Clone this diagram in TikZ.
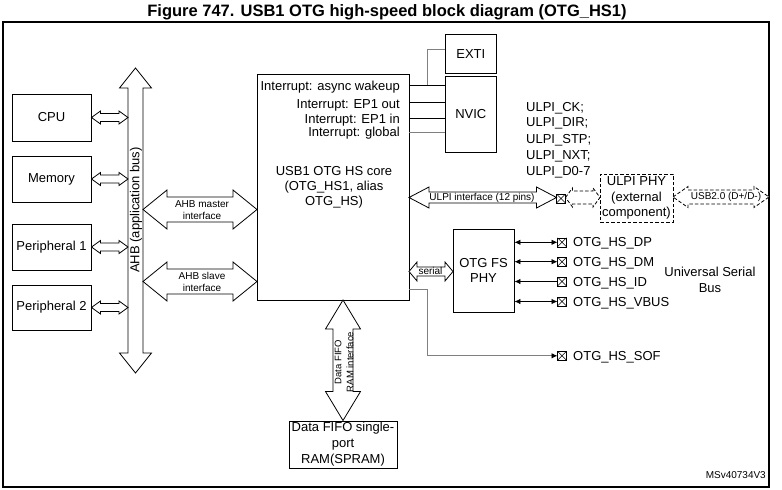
\documentclass[tikz,border=0pt]{standalone}
\usepackage{fontspec}
\setmainfont{Liberation Sans}
\usetikzlibrary{arrows.meta}
\newcommand{\msz}{\fontsize{13}{15.5}\selectfont}
\newcommand{\ssz}{\fontsize{10}{12}\selectfont}
\newcommand{\tsz}{\fontsize{16.5}{19}\selectfont\bfseries}
% horizontal double block arrow: [style]{x1}{x2}{y}{shaft half}{head half}{head length}
\newcommand{\dblH}[7][]{%
  \draw[#1] (#2,#4) -- ({#2+#7},{#4-#6}) -- ({#2+#7},{#4-#5}) -- ({#3-#7},{#4-#5}) -- ({#3-#7},{#4-#6}) -- (#3,#4) -- ({#3-#7},{#4+#6}) -- ({#3-#7},{#4+#5}) -- ({#2+#7},{#4+#5}) -- ({#2+#7},{#4+#6}) -- cycle;}
% vertical double block arrow: [style]{y1}{y2}{x}{shaft half}{head half}{head length}
\newcommand{\dblV}[7][]{%
  \draw[#1] (#4,#2) -- ({#4-#6},{#2+#7}) -- ({#4-#5},{#2+#7}) -- ({#4-#5},{#3-#7}) -- ({#4-#6},{#3-#7}) -- (#4,#3) -- ({#4+#6},{#3-#7}) -- ({#4+#5},{#3-#7}) -- ({#4+#5},{#2+#7}) -- ({#4+#6},{#2+#7}) -- cycle;}
\begin{document}
\begin{tikzpicture}[x=1pt,y=-1pt,
  box/.style={draw, line width=0.9pt, inner sep=0pt, align=center, font=\msz},
  dbox/.style={box, dash pattern=on 3.5pt off 2pt},
  lbl/.style={inner sep=0pt, font=\msz},
  slbl/.style={inner sep=0pt, font=\ssz, align=center},
  barrow/.style={draw, fill=white, line width=0.8pt, line join=miter},
  dbarrow/.style={barrow, dash pattern=on 3.5pt off 2pt},
  wire/.style={line width=0.8pt},
  gwire/.style={line width=0.9pt, draw=black!50},
  pinarrow/.style={line width=0.8pt, {Latex[length=6pt,width=5.5pt]}-{Latex[length=6pt,width=5.5pt]}},
  pinbox/.style={draw, line width=0.6pt, minimum size=9pt, inner sep=0pt, outer sep=0pt,
    path picture={\draw[line width=0.5pt] (path picture bounding box.north west) -- (path picture bounding box.south east)
      (path picture bounding box.north east) -- (path picture bounding box.south west);}}
]
\useasboundingbox (0,0) rectangle (782,490);
\fill[white] (0,0) rectangle (782,490);

% title and frame
\node[inner sep=0pt, font=\tsz, anchor=base] (title) at (387,16.8) {Figure 747. USB1 OTG high-speed block diagram (OTG\_HS1)};
\draw[line width=1.2pt] (3,22) rectangle (769,487);
\node[inner sep=0pt, font=\ssz, anchor=base east] (ref) at (766,478) {MSv40734V3};

% left boxes
\node[box, minimum width=79, minimum height=47] (cpu) at (51.5,117.5) {CPU};
\node[box, minimum width=79, minimum height=46] (mem) at (51.5,179) {Memory};
\node[box, minimum width=79, minimum height=46] (per1) at (51.5,247) {Peripheral 1};
\node[box, minimum width=79, minimum height=45] (per2) at (51.5,307.5) {Peripheral 2};

% core
\node[box, minimum width=152, minimum height=226] (core) at (333,187) {};
\node[lbl, anchor=base east] (i1) at (400,90) {Interrupt: async wakeup};
\node[lbl, anchor=base east] (i2) at (400,108.7) {Interrupt: EP1 out};
\node[lbl, anchor=base east] (i3) at (400,123) {Interrupt: EP1 in};
\node[lbl, anchor=base east] (i4) at (400,136.7) {Interrupt: global};
\node[lbl, anchor=base] (c1) at (334,175) {USB1 OTG HS core};
\node[lbl, anchor=base] (c2) at (334,190.3) {(OTG\_HS1, alias};
\node[lbl, anchor=base] (c3) at (334,205.6) {OTG\_HS)};

% EXTI / NVIC
\node[box, minimum width=51.5, minimum height=39.5] (exti) at (470.8,53.7) {EXTI};
\node[box, minimum width=51.5, minimum height=75.5] (nvic) at (470.8,114.5) {NVIC};
\draw[wire] (core.east |- 0,85) -- (nvic.west |- 0,85);
\draw[wire] (core.east |- 0,102.7) -- (nvic.west |- 0,102.7);
\draw[wire] (core.east |- 0,118.3) -- (nvic.west |- 0,118.3);
\draw[gwire] (core.east |- 0,132.3) -- (nvic.west |- 0,132.3);
\coordinate (jw) at (427.7,85);
\draw[gwire] (jw) |- (exti.west |- 0,49);

% ULPI labels
\node[lbl, anchor=base west] (u1) at (526,111.7) {ULPI\_CK;};
\node[lbl, anchor=base west] (u2) at (526,126.9) {ULPI\_DIR;};
\node[lbl, anchor=base west] (u3) at (526,143.3) {ULPI\_STP;};
\node[lbl, anchor=base west] (u4) at (526,159.3) {ULPI\_NXT;};
\node[lbl, anchor=base west] (u5) at (526,175) {ULPI\_D0-7};

% ULPI PHY
\node[dbox, minimum width=73, minimum height=48] (uphy) at (636.5,198) {ULPI PHY\\(external\\component)};

% OTG FS PHY
\node[box, minimum width=61, minimum height=83, font=\fontsize{13}{15}\selectfont] (fsphy) at (483.5,270.5) {OTG FS\\PHY};

% RAM
\node[box, minimum width=108, minimum height=47, font=\fontsize{13}{16}\selectfont] (ram) at (343,444.5) {Data FIFO single-\\port\\RAM(SPRAM)};

% AHB bus
\dblV[barrow]{68}{373}{135.5}{7.5}{16}{20}
\node[lbl, rotate=90] (ahbtxt) at (136,210) {AHB (application bus)};

% small bus arrows
\dblH[barrow]{91.5}{128}{117.5}{4}{6.5}{9}
\dblH[barrow]{91.5}{128}{179}{4}{6.5}{9}
\dblH[barrow]{91.5}{128}{247}{4}{6.5}{9}
\dblH[barrow]{91.5}{128}{307.5}{4}{6.5}{9}

% AHB master / slave
\dblH[barrow]{143}{257}{209.5}{12.5}{19.5}{24}
\node[slbl] (mtxt) at (202,210) {AHB master\\interface};
\dblH[barrow]{143}{257}{281.5}{12.5}{19.5}{24}
\node[slbl] (stxt) at (202,282) {AHB slave\\interface};

% pins
\node[pinbox] (pulpi) at (561,198.5) {};
\node[pinbox] (pdp) at (562,242.3) {};
\node[pinbox] (pdm) at (562,261.7) {};
\node[pinbox] (pid) at (562,281.5) {};
\node[pinbox] (pvbus) at (562,301.5) {};
\node[pinbox] (psof) at (562,355.8) {};

% ULPI interface
\dblH[barrow]{409}{556.5}{197.5}{5.5}{10.5}{20}
\node[slbl] (ulpitxt) at (482,197.5) {ULPI interface (12 pins)};
\dblH[dbarrow]{565.5}{600}{197.5}{6.5}{9.5}{7}
\dblH[dbarrow]{673}{769}{197}{7}{10.5}{15}
\node[slbl] (usbtxt) at (726,197) {USB2.0 (D+/D-)};

% serial
\dblH[barrow]{409}{453}{271.5}{4.5}{9.5}{8}
\node[slbl] (sertxt) at (430.5,270.5) {serial};

% FIFO arrow
\dblV[barrow]{300}{420.5}{343}{10}{17.5}{29}
\node[slbl, rotate=90, font=\fontsize{9.5}{12}\selectfont] (fifotxt) at (344,362) {Data FIFO\\RAM interface};

% PHY pin connections
\draw[pinarrow] (fsphy.east |- pdp) -- (pdp.west);
\draw[pinarrow] (fsphy.east |- pdm) -- (pdm.west);
\draw[line width=0.8pt, {Latex[length=6pt,width=5.5pt]}-] (fsphy.east |- pid) -- (pid.west);
\draw[pinarrow] (fsphy.east |- pvbus) -- (pvbus.west);
\draw[gwire, -{Latex[length=6pt,width=5.5pt,color=black]}] (core.east |- 0,289) -- (427,289) |- (psof.west);

% pin labels
\node[lbl, anchor=base west, xshift=6.5pt] (ldp) at (pdp.south east) {OTG\_HS\_DP};
\node[lbl, anchor=base west, xshift=6.5pt] (ldm) at (pdm.south east) {OTG\_HS\_DM};
\node[lbl, anchor=base west, xshift=6.5pt] (lid) at (pid.south east) {OTG\_HS\_ID};
\node[lbl, anchor=base west, xshift=6.5pt] (lvbus) at (pvbus.south east) {OTG\_HS\_VBUS};
\node[lbl, anchor=base west, xshift=6.5pt] (lsof) at (psof.south east) {OTG\_HS\_SOF};

\node[lbl, align=center, font=\fontsize{13}{16}\selectfont] (usb) at (710,280) {Universal Serial\\Bus};
\end{tikzpicture}
\end{document}
